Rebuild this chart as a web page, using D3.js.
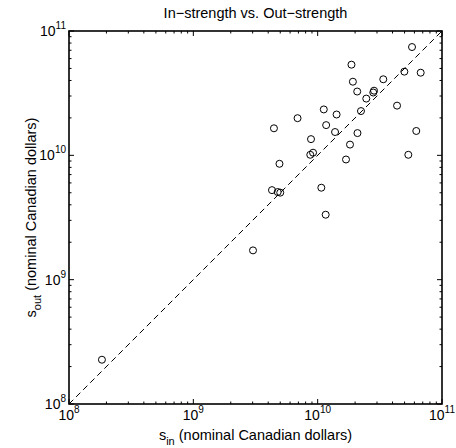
<!DOCTYPE html>
<html>
<head>
<meta charset="utf-8">
<script src="https://cdn.jsdelivr.net/npm/d3@7"></script>
<style>
  body { margin: 0; background: #fff; }
  svg text { font-family: "Liberation Sans", Arial, Helvetica, sans-serif; fill: #000; }
</style>
</head>
<body>
<svg id="chart" width="456" height="448"></svg>
<script>
// in-strength and out-strength per node (nominal Canadian dollars)
const sIn = [5.74e10, 1.87e10, 4.98e10, 6.74e10, 1.92e10, 3.37e10, 2.08e10, 2.84e10, 2.80e10,
             2.46e10, 4.35e10, 1.12e10, 2.23e10, 1.42e10, 6.89e9, 1.17e10, 4.45e9, 1.38e10,
             2.09e10, 6.21e10, 8.84e9, 1.82e10, 9.18e9, 8.72e9, 5.36e10, 4.93e9, 1.69e10,
             1.07e10, 4.29e9, 4.77e9, 5.00e9, 1.16e10, 3.02e9, 1.84e8];
const sOut = [7.43e10, 5.36e10, 4.71e10, 4.62e10, 3.91e10, 4.09e10, 3.26e10, 3.31e10, 3.20e10,
              2.86e10, 2.51e10, 2.34e10, 2.27e10, 2.13e10, 1.99e10, 1.75e10, 1.65e10, 1.54e10,
              1.51e10, 1.57e10, 1.35e10, 1.22e10, 1.05e10, 1.01e10, 1.01e10, 8.55e9, 9.26e9,
              5.49e9, 5.25e9, 5.07e9, 5.01e9, 3.33e9, 1.72e9, 2.27e8];
const domain = [1e8, 1e11];
const decades = [8, 9, 10, 11];

const margin = { top: 31, right: 14, bottom: 44, left: 69 };
const width = 456 - margin.left - margin.right;
const height = 448 - margin.top - margin.bottom;

const svg = d3.select("#chart");
const g = svg.append("g").attr("transform", `translate(${margin.left},${margin.top})`);

const x = d3.scaleLog().domain(domain).range([0, width]);
const y = d3.scaleLog().domain(domain).range([height, 0]);

// tick values: decades and minor 2..9
let major = decades.map(e => Math.pow(10, e));
let minor = [];
decades.slice(0, -1).forEach(e => {
    for (let k = 2; k <= 9; k++) minor.push(k * Math.pow(10, e));
});

// reference line y = x
g.append("line")
    .attr("x1", x(domain[0])).attr("y1", y(domain[0]))
    .attr("x2", x(domain[1])).attr("y2", y(domain[1]))
    .attr("stroke", "#000")
    .attr("stroke-width", 1)
    .attr("stroke-dasharray", "6,4");

// data points
g.selectAll("circle.pt")
    .data(sIn.map((v, i) => ({ sin: v, sout: sOut[i] })))
    .enter()
    .append("circle")
    .attr("class", "pt")
    .attr("cx", d => x(d.sin))
    .attr("cy", d => y(d.sout))
    .attr("r", 3.5)
    .attr("fill", "none")
    .attr("stroke", "#000")
    .attr("stroke-width", 1);

// ticks (inward, on all four sides)
const tickGroup = g.append("g").attr("stroke", "#000").attr("stroke-width", 1);
function drawTicks(vals, len) {
    vals.forEach(v => {
        let px = x(v), py = y(v);
        tickGroup.append("line").attr("x1", px).attr("x2", px).attr("y1", height).attr("y2", height - len);
        tickGroup.append("line").attr("x1", px).attr("x2", px).attr("y1", 0).attr("y2", len);
        tickGroup.append("line").attr("y1", py).attr("y2", py).attr("x1", 0).attr("x2", len);
        tickGroup.append("line").attr("y1", py).attr("y2", py).attr("x1", width).attr("x2", width - len);
    });
}
drawTicks(major, 5);
drawTicks(minor, 2.5);

// frame
g.append("rect")
    .attr("width", width).attr("height", height)
    .attr("fill", "none")
    .attr("stroke", "#000")
    .attr("stroke-width", 1.6);

// tick labels 10^n
decades.forEach(e => {
    let v = Math.pow(10, e);
    let t = g.append("text")
        .attr("x", x(v))
        .attr("y", height + 16)
        .attr("text-anchor", "middle")
        .style("font-size", "14px");
    t.append("tspan").text("10");
    t.append("tspan").attr("dy", -7).style("font-size", "10px").text(e);

    let ty = g.append("text")
        .attr("x", -3)
        .attr("y", y(v) + 5)
        .attr("text-anchor", "end")
        .style("font-size", "14px");
    ty.append("tspan").text("10");
    ty.append("tspan").attr("dy", -7).style("font-size", "10px").text(e);
});

// title
svg.append("text")
    .attr("x", margin.left + width / 2)
    .attr("y", 18)
    .attr("text-anchor", "middle")
    .style("font-size", "14.5px")
    .text("In\u2212strength vs. Out\u2212strength");

// x label
let xl = svg.append("text")
    .attr("x", margin.left + width / 2)
    .attr("y", 440)
    .attr("text-anchor", "middle")
    .style("font-size", "14.5px");
xl.append("tspan").text("s");
xl.append("tspan").attr("dy", 5).style("font-size", "11px").text("in");
xl.append("tspan").attr("dy", -5).text(" (nominal Canadian dollars)");

// y label
let yl = svg.append("text")
    .attr("transform", `translate(36,${margin.top + height / 2}) rotate(-90)`)
    .attr("text-anchor", "middle")
    .style("font-size", "14.5px");
yl.append("tspan").text("s");
yl.append("tspan").attr("dy", 5).style("font-size", "11px").text("out");
yl.append("tspan").attr("dy", -5).text(" (nominal Canadian dollars)");
</script>
</body>
</html>
